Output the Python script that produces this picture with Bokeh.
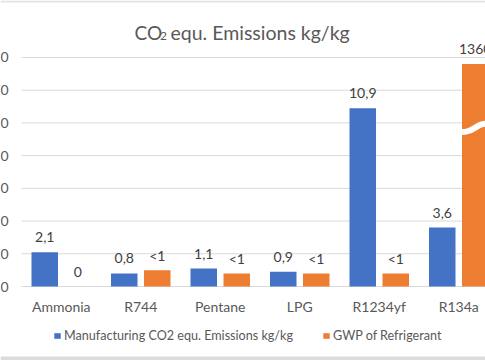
from bokeh.plotting import figure
from bokeh.models import (Range1d, ColumnDataSource, LabelSet, Label,
                          Legend, LegendItem)
from bokeh.core.properties import value
from bokeh.embed import file_html
from bokeh.resources import INLINE

# ---- data ----
categories = ["Ammonia", "R744", "Pentane", "LPG", "R1234yf", "R134a"]
manufacturing = [2.1, 0.8, 1.1, 0.9, 10.9, 3.6]
gwp_scaled = [0.0, 1.0, 0.8, 0.8, 0.8, 13.6]          # 1360 drawn scaled, with a break
manufacturing_labels = ["2,1", "0,8", "1,1", "0,9", "10,9", "3,6"]
gwp_labels = ["0", "<1", "<1", "<1", "<1", "1360"]
y_ticks = [0, 2, 4, 6, 8, 10, 12, 14]
y_tick_labels = ["0,0", "2,0", "4,0", "6,0", "8,0", "10,0", "12,0", "14,0"]
series_names = ["Manufacturing CO2 equ. Emissions kg/kg", "GWP of Refrigerant"]
title_parts = ["CO", "2", "equ. Emissions kg/kg"]
break_index = 5
break_value = 9.7

# ---- layout (pixel positions of the reference) ----
W, H = 485, 360
LEFT = 21
ZERO_Y = 286
PX_PER_CAT = 79.5
PX_PER_UNIT = 16.36
FONT = "Lato"
GREY = "#595959"
DARK = "#404040"
BLUE = "#4472C4"
ORANGE = "#ED7D31"
GRID = "#D9D9D9"


def px_x(px):
    return (px - LEFT) / PX_PER_CAT


def px_y(py):
    return (ZERO_Y - py) / PX_PER_UNIT


p = figure(width=W, height=H, output_backend="svg", toolbar_location=None,
           x_range=Range1d(px_x(0), px_x(W)), y_range=Range1d(px_y(H), px_y(0)),
           min_border=0)
p.outline_line_color = None
p.background_fill_color = "white"
p.border_fill_color = "white"
p.xaxis.visible = False
p.yaxis.visible = False
p.xgrid.visible = False
p.ygrid.visible = False

n = len(categories)
xs = [i + 0.5 for i in range(n)]
offset = 16.5 / PX_PER_CAT
bar_w = 26.5 / PX_PER_CAT

# horizontal gridlines across the plot area
p.segment(x0=[0] * len(y_ticks), x1=[n] * len(y_ticks), y0=y_ticks, y1=y_ticks,
          line_color=GRID, line_width=1)

src = ColumnDataSource(dict(
    xb=[x - offset for x in xs], xo=[x + offset for x in xs],
    m=manufacturing, g=gwp_scaled, ml=manufacturing_labels, gl=gwp_labels))

rb = p.vbar(x="xb", top="m", width=bar_w, source=src, fill_color=BLUE, line_color=None)
ro = p.vbar(x="xo", top="g", width=bar_w, source=src, fill_color=ORANGE, line_color=None)

# axis break on the big bar
bx = xs[break_index] + offset
half = bar_w / 2
p.bezier(x0=[bx - half - 4 / PX_PER_CAT], y0=[break_value - 0.25],
         x1=[bx + half + 2 / PX_PER_CAT], y1=[break_value + 0.25],
         cx0=[bx], cy0=[break_value - 0.35], cx1=[bx], cy1=[break_value + 0.35],
         line_color="white", line_width=6)

# frame edges of the screenshot
p.hspan(y=[px_y(1)], line_color="#E3E3E3", line_width=2)
p.hspan(y=[px_y(358)], line_color="#DCDCDC", line_width=4)

# category labels
csrc = ColumnDataSource(dict(x=xs, y=[px_y(306)] * n, t=categories))
p.add_layout(LabelSet(x="x", y="y", text="t", source=csrc, text_align="center",
                      text_baseline="middle", text_font=value(FONT),
                      text_font_size="14px", text_color=GREY))

# y tick labels (cut by the chart edge, as in the reference)
ysrc = ColumnDataSource(dict(x=[px_x(8)] * len(y_ticks), y=y_ticks, t=y_tick_labels))
p.add_layout(LabelSet(x="x", y="y", text="t", source=ysrc, text_align="right",
                      text_baseline="middle", text_font=value(FONT),
                      text_font_size="14px", text_color=GREY))

# value labels
for xcol, ycol, tcol in (("xb", "m", "ml"), ("xo", "g", "gl")):
    p.add_layout(LabelSet(x=xcol, y=ycol, text=tcol, source=src, y_offset=15,
                          text_align="center", text_baseline="middle",
                          text_font=value(FONT), text_font_size="14px",
                          text_color=DARK))

# title with subscript
p.add_layout(Label(x=px_x(134), y=px_y(31.7), text=title_parts[0], text_align="left",
                   text_baseline="alphabetic", text_font=FONT,
                   text_font_size="19px", text_color=GREY))
p.add_layout(Label(x=px_x(159.5), y=px_y(35), text=title_parts[1], text_align="left",
                   text_baseline="alphabetic", text_font=FONT,
                   text_font_size="12px", text_color=GREY))
p.add_layout(Label(x=px_x(170), y=px_y(31.7), text=title_parts[2], text_align="left",
                   text_baseline="alphabetic", text_font=FONT,
                   text_font_size="19.5px", text_color=GREY))

legend = Legend(items=[LegendItem(label=series_names[0], renderers=[rb]),
                       LegendItem(label=series_names[1], renderers=[ro])],
                orientation="horizontal", location=(53, 17),
                glyph_width=8, glyph_height=7, label_standoff=3, spacing=29,
                padding=0, margin=0, border_line_color=None,
                background_fill_alpha=0,
                label_text_font=FONT, label_text_font_size="12.6px",
                label_text_color=GREY)
p.add_layout(legend)

open("out.html", "w").write(file_html(p, INLINE))
